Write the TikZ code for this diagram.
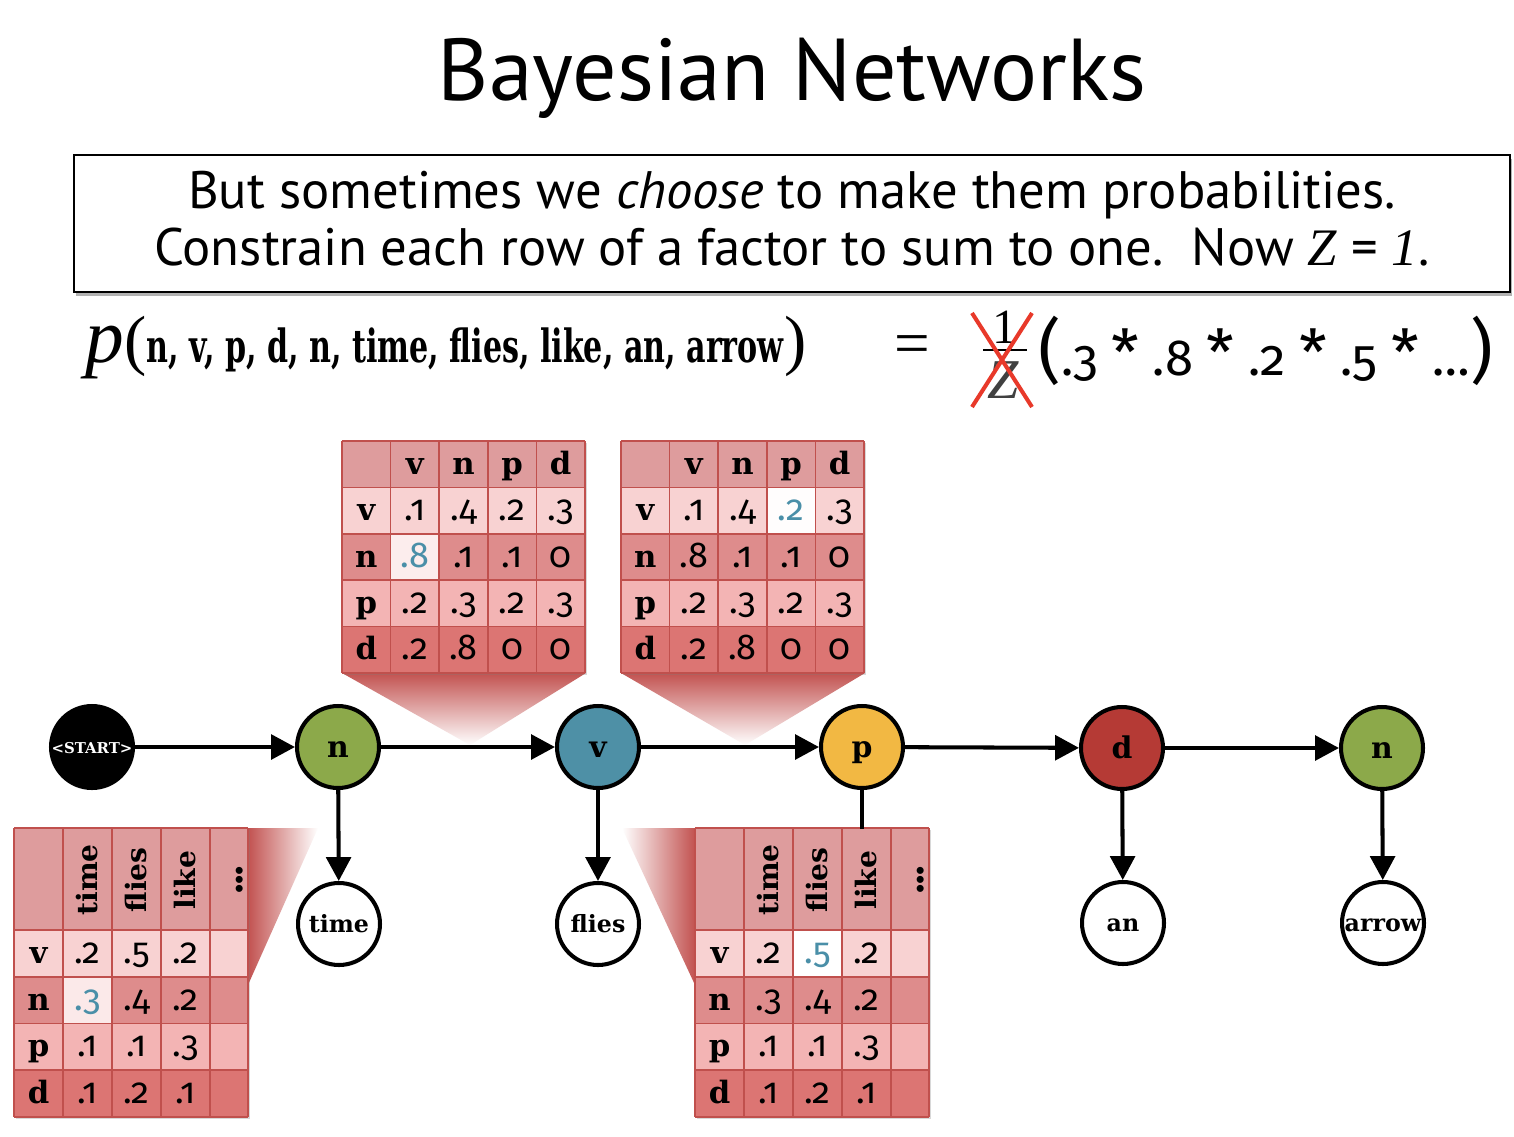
\documentclass[tikz,border=0pt]{standalone}
\usepackage{fontspec}
\setmainfont{PT Sans}
\newfontfamily\tagfont{DejaVu Serif}
\newfontfamily\wordfont{Liberation Serif}
\newfontfamily\slabfont{DejaVu Serif}
\newfontfamily\numfont{Fira Sans}[Numbers=OldStyle]
\usetikzlibrary{arrows.meta,shadows}
\definecolor{hdr}{HTML}{DE9C9D}
\definecolor{rv}{HTML}{F8D2D2}
\definecolor{rn}{HTML}{DE8C8C}
\definecolor{rp}{HTML}{F3B4B4}
\definecolor{rd}{HTML}{DC7573}
\definecolor{bord}{HTML}{C0504D}
\definecolor{hlblue}{HTML}{4A8FA8}
\definecolor{ngreen}{HTML}{8CA94A}
\definecolor{nblue}{HTML}{4E90A6}
\definecolor{nyellow}{HTML}{F2B843}
\definecolor{nred}{HTML}{B53A35}
\definecolor{xred}{HTML}{E8392A}
\definecolor{wedgetop}{HTML}{C25250}
\newcommand\bluenum[1]{\textcolor{hlblue}{#1}}
\newcommand\bigast{{\fontsize{36}{36}\selectfont *}}
% top (transition) table: name, x0, y0, hl col, hl row, hl fill, rows
\newcommand\toptable[7]{%
\begin{scope}[shift={(#2,#3)}]
  \fill[bord, drop shadow={shadow xshift=1.2pt,shadow yshift=-1.2pt,opacity=.3}] (0,0) rectangle (243,232);
  \foreach \cc/\yy in {hdr/0, rv/1, rn/2, rp/3, rd/4}
    \fill[\cc] (0,{\yy*46.4}) rectangle (243,{(\yy+1)*46.4});
  \fill[#6] ({#4*48.6},{#5*46.4}) rectangle ({(#4+1)*48.6},{(#5+1)*46.4});
  \foreach \i in {0,...,5} \draw[gridline] ({\i*48.6},0) -- ({\i*48.6},232);
  \foreach \j in {0,...,5} \draw[gridline] (0,{\j*46.4}) -- (243,{\j*46.4});
  \foreach \h [count=\c] in {v,n,p,d}
    \node[celltag] (#1-h\c) at ({(\c+0.5)*48.6},{0.5*46.4+10}) {\h};
  \foreach \lab/\vals [count=\r] in {#7} {
    \node[celltag] (#1-l\r) at (24.3,{(\r+0.5)*46.4+10}) {\lab};
    \foreach \v [count=\c] in \vals
      \node[cellnum] (#1-\r-\c) at ({(\c+0.5)*48.6},{(\r+0.5)*46.4+10}) {\v};
  }
\end{scope}}
% bottom (emission) table: name, x0, y0, hl col, hl row, hl fill, rows
\newcommand\bottable[7]{%
\begin{scope}[shift={(#2,#3)}]
  \fill[bord, drop shadow={shadow xshift=1.2pt,shadow yshift=-1.2pt,opacity=.3}] (0,0) rectangle (234,289);
  \fill[hdr] (0,0) rectangle (234,102);
  \foreach \cc/\yy in {rv/0, rn/1, rp/2, rd/3}
    \fill[\cc] (0,{102+\yy*46.75}) rectangle (234,{102+(\yy+1)*46.75});
  \fill[#6] ({#4*49},{102+(#5-1)*46.75}) rectangle ({(#4+1)*49},{102+#5*46.75});
  \foreach \xx in {0,49,98,147,196,234} \draw[gridline] (\xx,0) -- (\xx,289);
  \foreach \j in {0,...,4} \draw[gridline] (0,{102+\j*46.75}) -- (234,{102+\j*46.75});
  \draw[gridline] (0,0) -- (234,0);
  \foreach \w [count=\c] in {time,flies,like}
    \node[rothead] (#1-h\c) at ({(\c+0.5)*49},52) {\w};
  \node[rothead, font=\numfont\fontsize{22}{22}\selectfont\bfseries] (#1-h4) at (226,52) {...};
  \foreach \lab/\vals [count=\r] in {#7} {
    \node[celltag] (#1-l\r) at (24.5,{102+(\r-0.5)*46.75+10}) {\lab};
    \foreach \v [count=\c] in \vals
      \node[cellnum] (#1-\r-\c) at ({(\c+0.5)*49},{102+(\r-0.5)*46.75+10}) {\v};
  }
\end{scope}}
\begin{document}
\begin{tikzpicture}[x={(0.02cm,0)}, y={(0,-0.02cm)},
  gridline/.style={draw=bord, line width=0.9pt},
  celltag/.style={anchor=base, inner sep=0pt, font=\tagfont\bfseries\fontsize{17.5}{18}\selectfont},
  cellnum/.style={anchor=base, inner sep=0pt, font=\numfont\fontsize{20.5}{21}\selectfont},
  rothead/.style={rotate=90, anchor=center, inner sep=0pt, font=\slabfont\bfseries\fontsize{16}{17}\selectfont},
  tag/.style={circle, draw=black, line width=2.3pt, minimum size=1.64cm, inner sep=0pt,
              text height=11.4pt, text depth=0pt,
              font=\tagfont\bfseries\fontsize{17}{17}\selectfont},
  obs/.style={tag, fill=white, text height=10pt, font=\slabfont\bfseries\fontsize{13.5}{14}\selectfont},
  edge/.style={line width=2.3pt, -{Triangle[length=13.6pt,width=14pt]}},
  plain/.style={line width=2.3pt}]
\useasboundingbox (0,0) rectangle (1514,1136);
\fill[white] (0,0) rectangle (1514,1136);

% title and statement box
\node[anchor=base, font=\fontsize{50}{54}\selectfont] (title) at (792,100) {Bayesian Networks};
\node[draw=black, line width=1.1pt, fill=white, minimum width=28.72cm, minimum height=2.74cm, inner sep=0pt,
      drop shadow={shadow xshift=1pt, shadow yshift=-2pt, opacity=.6}] (box) at (792,223.5) {};
\node[anchor=base, font=\fontsize{30}{32}\selectfont] (line1) at (792,208)
  {But sometimes we \textit{choose} to make them probabilities.};
\node[anchor=base, font=\fontsize{30}{32}\selectfont] (line2) at (792,265)
  {Constrain each row of a factor to sum to one.\ \ Now {\wordfont\itshape Z} = {\wordfont\itshape 1}.};

% formula
\node[anchor=base west, inner sep=0pt] (lhs) at (85,362)
  {{\wordfont\itshape\fontsize{44}{44}\selectfont p}{\wordfont\fontsize{38}{38}\selectfont(}\scalebox{0.66}[1]{\slabfont\bfseries\fontsize{26}{26}\selectfont n, v, p, d, n, time, flies, like, an, arrow}{\wordfont\fontsize{38}{38}\selectfont)}};
\node[font=\wordfont\fontsize{36}{36}\selectfont, inner sep=0pt] (eq) at (912,350) {=};
\node[anchor=base, inner sep=0pt, font=\wordfont\fontsize{28}{28}\selectfont] (fone) at (1005,343) {1};
\node[anchor=base, inner sep=0pt, text=black!75, font=\wordfont\itshape\fontsize{32}{32}\selectfont] (fz) at (1003,398) {Z};
\coordinate (fbl) at (983,350); \coordinate (fbr) at (1027,350);
\draw[line width=1pt] (fbl) -- (fbr);
\coordinate (xa) at (972,313); \coordinate (xb) at (1032,407);
\coordinate (xc) at (1032,313); \coordinate (xd) at (972,407);
\draw[xred, line width=2.3pt] (xa) -- (xb) (xc) -- (xd);
\node[anchor=base west, inner sep=0pt, font=\numfont\fontsize{29}{29}\selectfont] (prod) at (1038,375)
  {{\fontsize{40}{40}\selectfont(}.3 \bigast\ .8 \bigast\ .2 \bigast\ .5 \bigast\ \ldots{\fontsize{40}{40}\selectfont)}};

% callout wedges
\shade[top color=wedgetop, middle color=wedgetop!35!white, bottom color=white] (342,673) -- (586,673) -- (470,745) -- cycle;
\shade[top color=wedgetop, middle color=wedgetop!35!white, bottom color=white] (621,673) -- (865,673) -- (745,745) -- cycle;
\shade[left color=wedgetop, right color=white] (248,828) -- (318,828) -- (248,985) -- cycle;
\shade[left color=white, right color=wedgetop] (622,828) -- (695,828) -- (695,985) -- cycle;

% tables
\toptable{ta}{342}{441}{1}{2}{rv!40!white}{v/{.1,.4,.2,.3}, n/{\bluenum{.8},.1,.1,0}, p/{.2,.3,.2,.3}, d/{.2,.8,0,0}}
\toptable{tb}{621}{441}{3}{1}{white!95!rv}{v/{.1,.4,\bluenum{.2},.3}, n/{.8,.1,.1,0}, p/{.2,.3,.2,.3}, d/{.2,.8,0,0}}
\coordinate (pdown) at (862,829);
\bottable{tc}{14}{828}{1}{2}{rv!50!white}{v/{.2,.5,.2}, n/{\bluenum{.3},.4,.2}, p/{.1,.1,.3}, d/{.1,.2,.1}}
\bottable{td}{695}{828}{2}{1}{white}{v/{.2,\bluenum{.5},.2}, n/{.3,.4,.2}, p/{.1,.1,.3}, d/{.1,.2,.1}}

% nodes
\node[tag, fill=black, text=white, text height=7pt, font=\tagfont\bfseries\fontsize{8.5}{9}\selectfont] (start) at (92,747) {<START>};
\node[tag, fill=ngreen] (n1) at (338,747) {n};
\node[tag, fill=nblue] (v) at (598,747) {v};
\node[tag, fill=nyellow] (p) at (862,747) {p};
\node[tag, fill=nred] (d) at (1122,748) {d};
\node[tag, fill=ngreen] (n2) at (1382,748) {n};
\node[obs] (time) at (339,924) {time};
\node[obs] (flies) at (598,924) {flies};
\node[obs] (an) at (1123,923) {an};
\node[obs] (arrow) at (1383,923) {\makebox[0pt]{arrow}};

% connectors
\draw[edge] (start) -- (n1);
\draw[edge] (n1) -- (v);
\draw[edge] (v) -- (p);
\draw[edge] (p) -- (d);
\draw[edge] (d) -- (n2);
\draw[edge] (n1) -- (time);
\draw[edge] (v) -- (flies);
\draw[edge] (d) -- (an);
\draw[edge] (n2) -- (arrow);
\draw[plain] (p) -- (pdown);
\end{tikzpicture}
\end{document}
